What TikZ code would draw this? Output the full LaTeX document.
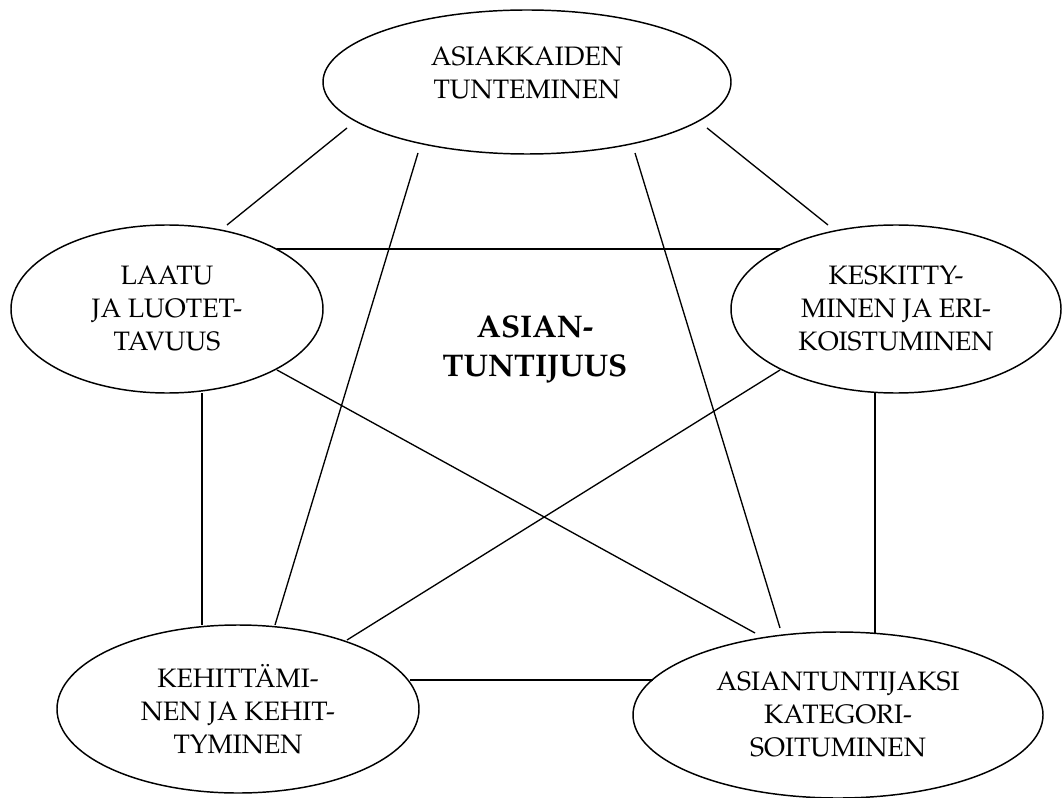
\documentclass[tikz,border=0pt]{standalone}
\usepackage[T1]{fontenc}
\usepackage{mathpazo}
\usetikzlibrary{shapes.geometric,calc}
\begin{document}
\begin{tikzpicture}[x=0.75pt,y=-0.75pt,
  oval/.style={ellipse,draw,line width=1.1pt,inner sep=0pt,align=center,font=\fontsize{20}{24.75}\selectfont},
  plain/.style={align=center,inner sep=0pt,font=\fontsize{20}{24.75}\selectfont},
  core/.style={align=center,inner sep=0pt,font=\fontsize{23.5}{29.25}\selectfont\bfseries},
  link/.style={line width=1pt}]
\useasboundingbox (0,0) rectangle (1062,798);
% ellipses
\node[oval,minimum width=306pt,minimum height=108pt] (T) at (527,82) {};
\node[plain] (Ttext) at (527,73) {ASIAKKAIDEN\\TUNTEMINEN};
\node[oval,minimum width=234pt,minimum height=126pt] (L) at (167,309) {LAATU\\JA LUOTET-\\TAVUUS};
\node[oval,minimum width=247.5pt,minimum height=126pt] (R) at (896,309) {KESKITTY-\\MINEN JA ERI-\\KOISTUMINEN};
\node[oval,minimum width=271.5pt,minimum height=126pt] (BL) at (238,709) {KEHITT\"AMI-\\NEN JA KEHIT-\\TYMINEN};
\node[oval,minimum width=307.5pt,minimum height=124.5pt] (BR) at (838,715) {ASIANTUNTIJAKSI\\KATEGORI-\\SOITUMINEN};
% centre text
\node[core] (C) at (535,350) {ASIAN-\\TUNTIJUUS};
% pentagon and star connectors
\draw[link] ($(T)+(-180,46)$) -- ($(L)+(60,-84)$);
\draw[link] ($(T)+(180,46)$) -- ($(R)+(-68,-84)$);
\draw[link] ($(L)+(110,-60)$) -- ($(R)+(-116,-60)$);
\draw[link] ($(T)+(-109,71)$) -- ($(BL)+(37,-84)$);
\draw[link] ($(T)+(108,71)$) -- ($(BR)+(-58,-87)$);
\draw[link] ($(L)+(110,61)$) -- ($(BR)+(-83,-82)$);
\draw[link] ($(R)+(-116,61)$) -- ($(BL)+(109,-69)$);
\draw[link] ($(L)+(35,84)$) -- ($(BL)+(-36,-84)$);
\draw[link] ($(R)+(-21,84)$) -- ($(BR)+(37,-82)$);
\draw[link] ($(BL)+(172,-29)$) -- ($(BR)+(-185,-35)$);
\end{tikzpicture}
\end{document}
